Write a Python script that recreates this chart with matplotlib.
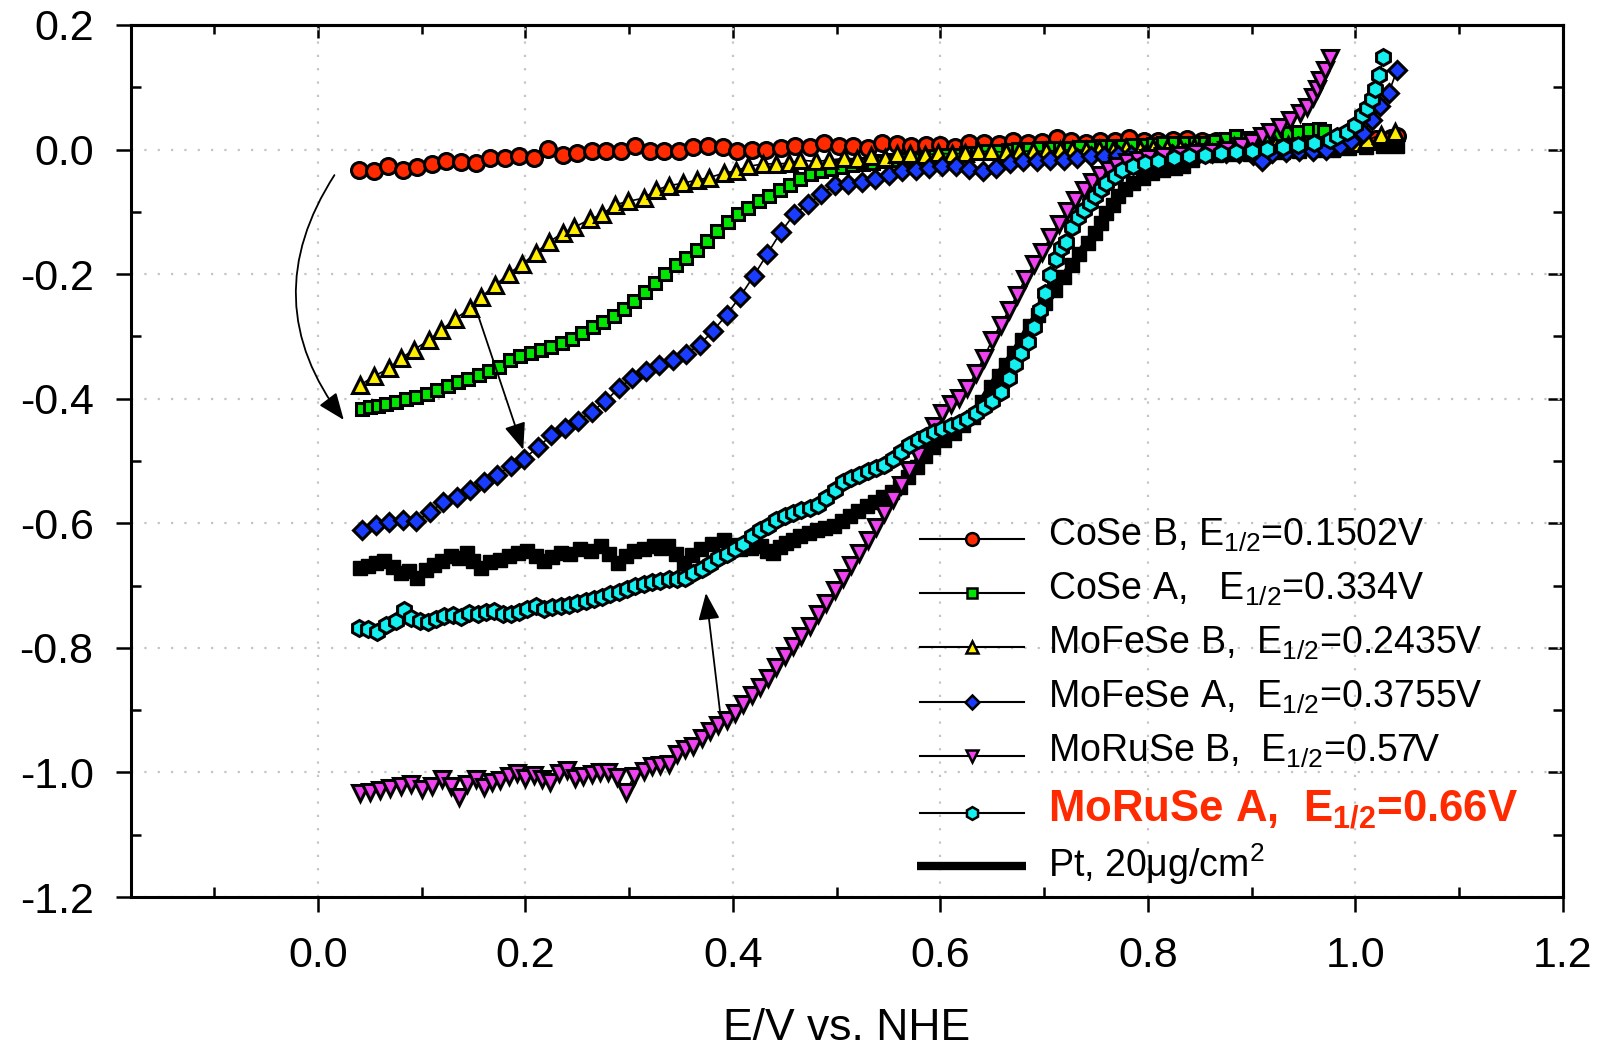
import matplotlib
matplotlib.use("Agg")
import matplotlib.pyplot as plt
from matplotlib.ticker import MultipleLocator, FormatStrFormatter

plt.rcParams['font.family'] = ['Liberation Sans', 'DejaVu Sans']
plt.rcParams['mathtext.fontset'] = 'custom'
plt.rcParams['mathtext.rm'] = 'Liberation Sans'
plt.rcParams['mathtext.it'] = 'Liberation Sans:italic'
plt.rcParams['mathtext.bf'] = 'Liberation Sans:bold'
plt.rcParams['axes.unicode_minus'] = False

# ---- polarisation curves: potential (V vs. NHE) and current ----
cose_b_x = [0.040, 0.054, 0.068, 0.082, 0.096, 0.110, 0.124, 0.138, 0.152, 0.166, 0.180, 0.194,
            0.208, 0.222, 0.236, 0.250, 0.264, 0.278, 0.292, 0.306, 0.320, 0.334, 0.348, 0.362,
            0.376, 0.390, 0.404, 0.418, 0.432, 0.446, 0.460, 0.474, 0.488, 0.502, 0.516, 0.530,
            0.544, 0.558, 0.572, 0.586, 0.600, 0.614, 0.628, 0.642, 0.656, 0.670, 0.684, 0.698,
            0.712, 0.726, 0.740, 0.754, 0.768, 0.782, 0.796, 0.810, 0.824, 0.838, 0.852, 0.866,
            0.880, 0.894, 0.908, 0.922, 0.936, 0.950, 0.964, 0.978, 0.992, 1.006, 1.020, 1.034, 1.040]
cose_b_y = [-0.033, -0.034, -0.026, -0.033, -0.028, -0.023, -0.019, -0.020, -0.022, -0.013, -0.013, -0.010,
            -0.014, 0.001, -0.009, -0.006, -0.003, -0.002, -0.003, 0.006, -0.003, -0.003, -0.002, 0.004,
            0.006, 0.004, -0.003, 0.000, 0.000, 0.002, 0.006, 0.004, 0.010, 0.006, 0.005, 0.003,
            0.010, 0.009, 0.006, 0.007, 0.007, 0.004, 0.011, 0.011, 0.009, 0.014, 0.011, 0.012,
            0.019, 0.013, 0.011, 0.014, 0.014, 0.018, 0.014, 0.013, 0.015, 0.017, 0.013, 0.014,
            0.013, 0.015, 0.014, 0.013, 0.015, 0.014, 0.015, 0.016, 0.014, 0.016, 0.017, 0.018, 0.021]

cose_a_x = [0.043, 0.050, 0.058, 0.066, 0.075, 0.085, 0.095, 0.105, 0.115, 0.125, 0.135, 0.145,
            0.155, 0.165, 0.175, 0.185, 0.195, 0.205, 0.215, 0.225, 0.235, 0.245, 0.255, 0.265,
            0.275, 0.285, 0.295, 0.305, 0.315, 0.325, 0.335, 0.345, 0.355, 0.365, 0.375, 0.385,
            0.395, 0.405, 0.415, 0.425, 0.435, 0.445, 0.455, 0.465, 0.475, 0.485, 0.495, 0.505,
            0.515, 0.525, 0.535, 0.545, 0.555, 0.565, 0.575, 0.585, 0.595, 0.605, 0.615, 0.625,
            0.635, 0.645, 0.655, 0.665, 0.675, 0.685, 0.695, 0.705, 0.715, 0.725, 0.735, 0.745,
            0.755, 0.765, 0.775, 0.785, 0.795, 0.805, 0.815, 0.825, 0.835, 0.845, 0.855, 0.865,
            0.875, 0.885, 0.895, 0.905, 0.915, 0.925, 0.935, 0.945, 0.955, 0.965, 0.970]
cose_a_y = [-0.417, -0.414, -0.412, -0.408, -0.405, -0.401, -0.397, -0.392, -0.386, -0.380, -0.373, -0.368,
            -0.362, -0.356, -0.349, -0.338, -0.331, -0.327, -0.322, -0.317, -0.311, -0.304, -0.294, -0.285,
            -0.277, -0.267, -0.256, -0.243, -0.229, -0.214, -0.200, -0.186, -0.174, -0.161, -0.146, -0.131,
            -0.116, -0.104, -0.093, -0.083, -0.074, -0.065, -0.057, -0.047, -0.040, -0.035, -0.031, -0.028,
            -0.025, -0.023, -0.021, -0.019, -0.017, -0.015, -0.014, -0.012, -0.011, -0.009, -0.008, -0.006,
            -0.005, -0.003, -0.002, 0.000, 0.001, 0.001, 0.002, 0.002, 0.003, 0.003, 0.004, 0.004,
            0.005, 0.006, 0.006, 0.007, 0.008, 0.009, 0.010, 0.010, 0.010, 0.010, 0.011, 0.013,
            0.017, 0.021, 0.019, 0.018, 0.019, 0.025, 0.027, 0.029, 0.031, 0.033, 0.030]

mofese_b_x = [0.041, 0.054, 0.069, 0.080, 0.093, 0.107, 0.119, 0.132, 0.147, 0.157, 0.171, 0.184,
              0.197, 0.210, 0.223, 0.236, 0.247, 0.262, 0.274, 0.286, 0.299, 0.314, 0.326, 0.338,
              0.352, 0.365, 0.377, 0.391, 0.403, 0.415, 0.429, 0.442, 0.454, 0.465, 0.480, 0.493,
              0.507, 0.520, 0.533, 0.547, 0.558, 0.571, 0.585, 0.598, 0.611, 0.624, 0.636, 0.649,
              0.663, 0.676, 0.689, 0.702, 0.715, 0.727, 0.740, 0.753, 0.766, 0.779, 0.792, 0.805,
              0.818, 0.831, 0.844, 0.857, 0.870, 0.883, 0.896, 0.909, 0.922, 0.935, 0.948, 0.961,
              0.974, 0.987, 1.000, 1.011, 1.025, 1.038]
mofese_b_y = [-0.378, -0.364, -0.351, -0.335, -0.321, -0.306, -0.290, -0.272, -0.255, -0.237, -0.218, -0.199,
              -0.184, -0.166, -0.148, -0.134, -0.125, -0.112, -0.104, -0.089, -0.083, -0.078, -0.065, -0.058,
              -0.054, -0.049, -0.045, -0.038, -0.034, -0.027, -0.023, -0.023, -0.022, -0.017, -0.019, -0.017,
              -0.014, -0.015, -0.011, -0.014, -0.007, -0.007, -0.009, -0.006, -0.007, -0.006, -0.003, -0.003,
              -0.004, -0.003, -0.002, -0.003, -0.001, 0.000, -0.001, 0.001, 0.000, 0.002, 0.001, 0.002,
              0.003, 0.003, 0.004, 0.004, 0.005, 0.005, 0.006, 0.006, 0.007, 0.007, 0.008, 0.008,
              0.009, 0.010, 0.011, 0.015, 0.024, 0.028]

mofese_a_x = [0.043, 0.056, 0.069, 0.082, 0.095, 0.108, 0.121, 0.134, 0.147, 0.160, 0.173, 0.186,
              0.199, 0.212, 0.225, 0.238, 0.251, 0.264, 0.277, 0.290, 0.303, 0.316, 0.329, 0.342,
              0.355, 0.368, 0.381, 0.394, 0.407, 0.420, 0.433, 0.446, 0.459, 0.472, 0.485, 0.498,
              0.511, 0.524, 0.537, 0.550, 0.563, 0.576, 0.589, 0.602, 0.615, 0.628, 0.641, 0.654,
              0.667, 0.680, 0.693, 0.706, 0.719, 0.732, 0.745, 0.758, 0.771, 0.784, 0.797, 0.810,
              0.823, 0.836, 0.849, 0.862, 0.875, 0.888, 0.901, 0.910, 0.920, 0.933, 0.946, 0.959,
              0.972, 0.985, 0.996, 1.007, 1.016, 1.024, 1.032, 1.040]
mofese_a_y = [-0.610, -0.603, -0.598, -0.594, -0.597, -0.582, -0.566, -0.557, -0.547, -0.534, -0.522, -0.508,
              -0.496, -0.478, -0.459, -0.447, -0.435, -0.421, -0.404, -0.383, -0.367, -0.355, -0.346, -0.338,
              -0.328, -0.313, -0.291, -0.265, -0.236, -0.203, -0.168, -0.133, -0.104, -0.088, -0.072, -0.057,
              -0.055, -0.052, -0.048, -0.041, -0.035, -0.032, -0.029, -0.026, -0.026, -0.031, -0.034, -0.029,
              -0.022, -0.018, -0.018, -0.017, -0.016, -0.013, -0.011, -0.010, -0.009, -0.009, -0.008, -0.007,
              -0.007, -0.006, -0.006, -0.006, -0.005, -0.005, -0.009, -0.018, -0.006, -0.004, -0.003, -0.002,
              0.000, 0.005, 0.014, 0.027, 0.048, 0.070, 0.091, 0.127]

moruse_b_x = [0.041, 0.050, 0.060, 0.070, 0.080, 0.090, 0.100, 0.110, 0.120, 0.128, 0.136, 0.144,
              0.152, 0.160, 0.168, 0.176, 0.184, 0.192, 0.200, 0.208, 0.216, 0.224, 0.232, 0.240,
              0.248, 0.256, 0.264, 0.272, 0.280, 0.288, 0.297, 0.305, 0.314, 0.322, 0.330, 0.338,
              0.346, 0.354, 0.362, 0.370, 0.378, 0.386, 0.394, 0.402, 0.410, 0.418, 0.426, 0.434,
              0.442, 0.450, 0.458, 0.466, 0.474, 0.482, 0.490, 0.498, 0.506, 0.514, 0.522, 0.530,
              0.538, 0.546, 0.554, 0.562, 0.570, 0.578, 0.586, 0.594, 0.602, 0.610, 0.618, 0.626,
              0.634, 0.642, 0.650, 0.658, 0.666, 0.674, 0.682, 0.690, 0.698, 0.706, 0.714, 0.722,
              0.730, 0.738, 0.746, 0.754, 0.762, 0.770, 0.780, 0.790, 0.800, 0.815, 0.830, 0.845,
              0.860, 0.875, 0.890, 0.900, 0.910, 0.918, 0.927, 0.937, 0.947, 0.953, 0.959, 0.963,
              0.966, 0.971, 0.975]
moruse_b_y = [-1.033, -1.031, -1.028, -1.025, -1.022, -1.019, -1.027, -1.022, -1.010, -1.021, -1.039, -1.018,
              -1.010, -1.023, -1.015, -1.012, -1.006, -1.001, -1.009, -1.004, -1.010, -1.015, -1.001, -0.996,
              -1.009, -1.006, -1.003, -1.000, -0.999, -1.008, -1.031, -1.005, -0.998, -0.990, -0.988, -0.986,
              -0.970, -0.962, -0.958, -0.945, -0.933, -0.923, -0.915, -0.904, -0.890, -0.875, -0.862, -0.849,
              -0.830, -0.813, -0.797, -0.781, -0.765, -0.746, -0.728, -0.707, -0.687, -0.667, -0.648, -0.627,
              -0.606, -0.584, -0.561, -0.538, -0.515, -0.490, -0.466, -0.443, -0.423, -0.408, -0.399, -0.382,
              -0.359, -0.334, -0.305, -0.281, -0.258, -0.233, -0.207, -0.184, -0.164, -0.141, -0.119, -0.098,
              -0.081, -0.065, -0.052, -0.041, -0.033, -0.026, -0.020, -0.016, -0.013, -0.010, -0.008, -0.006,
              -0.004, 0.000, 0.006, 0.012, 0.021, 0.029, 0.037, 0.048, 0.058, 0.069, 0.085, 0.098,
              0.112, 0.128, 0.147]

moruse_a_x = [0.040, 0.048, 0.057, 0.066, 0.075, 0.083, 0.090, 0.098, 0.106, 0.114, 0.122, 0.130,
              0.138, 0.146, 0.154, 0.162, 0.170, 0.178, 0.186, 0.194, 0.202, 0.210, 0.218, 0.226,
              0.234, 0.242, 0.250, 0.258, 0.266, 0.274, 0.282, 0.290, 0.298, 0.306, 0.314, 0.322,
              0.330, 0.338, 0.346, 0.354, 0.362, 0.370, 0.378, 0.386, 0.394, 0.402, 0.410, 0.418,
              0.426, 0.434, 0.442, 0.450, 0.458, 0.466, 0.474, 0.482, 0.490, 0.498, 0.506, 0.514,
              0.522, 0.530, 0.538, 0.546, 0.554, 0.562, 0.570, 0.578, 0.586, 0.594, 0.602, 0.610,
              0.618, 0.626, 0.634, 0.642, 0.650, 0.658, 0.666, 0.672, 0.678, 0.684, 0.690, 0.696,
              0.701, 0.706, 0.711, 0.716, 0.721, 0.727, 0.733, 0.738, 0.744, 0.749, 0.755, 0.760,
              0.768, 0.775, 0.786, 0.797, 0.810, 0.825, 0.840, 0.855, 0.870, 0.885, 0.900, 0.915,
              0.930, 0.945, 0.960, 0.975, 0.982, 0.992, 1.000, 1.006, 1.011, 1.016, 1.019, 1.023, 1.027]
moruse_a_y = [-0.768, -0.770, -0.774, -0.764, -0.757, -0.739, -0.752, -0.757, -0.758, -0.754, -0.749, -0.747,
              -0.751, -0.744, -0.745, -0.742, -0.741, -0.745, -0.746, -0.743, -0.738, -0.733, -0.737, -0.735,
              -0.733, -0.731, -0.728, -0.725, -0.722, -0.718, -0.714, -0.711, -0.705, -0.700, -0.697, -0.695,
              -0.693, -0.690, -0.689, -0.688, -0.680, -0.673, -0.665, -0.656, -0.649, -0.642, -0.633, -0.621,
              -0.611, -0.604, -0.595, -0.588, -0.583, -0.578, -0.575, -0.571, -0.560, -0.546, -0.533, -0.528,
              -0.522, -0.516, -0.511, -0.506, -0.496, -0.485, -0.475, -0.467, -0.460, -0.453, -0.448, -0.444,
              -0.439, -0.432, -0.423, -0.414, -0.403, -0.389, -0.366, -0.345, -0.326, -0.309, -0.285, -0.258,
              -0.231, -0.201, -0.176, -0.158, -0.148, -0.124, -0.109, -0.097, -0.085, -0.075, -0.064, -0.054,
              -0.043, -0.033, -0.027, -0.022, -0.018, -0.014, -0.011, -0.009, -0.006, -0.004, -0.002, 0.001,
              0.004, 0.007, 0.010, 0.015, 0.021, 0.029, 0.039, 0.056, 0.066, 0.082, 0.098, 0.120, 0.149]

pt_x = [0.041, 0.048, 0.056, 0.064, 0.072, 0.080, 0.088, 0.096, 0.104, 0.112, 0.120, 0.128,
        0.136, 0.144, 0.150, 0.157, 0.166, 0.176, 0.184, 0.193, 0.202, 0.210, 0.218, 0.226,
        0.234, 0.243, 0.253, 0.263, 0.273, 0.281, 0.289, 0.297, 0.305, 0.314, 0.324, 0.331,
        0.337, 0.345, 0.353, 0.361, 0.369, 0.380, 0.391, 0.399, 0.407, 0.417, 0.427, 0.433,
        0.439, 0.445, 0.451, 0.458, 0.465, 0.473, 0.481, 0.489, 0.497, 0.505, 0.513, 0.521,
        0.529, 0.537, 0.545, 0.553, 0.561, 0.569, 0.577, 0.585, 0.593, 0.603, 0.613, 0.622,
        0.631, 0.640, 0.649, 0.656, 0.663, 0.671, 0.679, 0.686, 0.694, 0.701, 0.710, 0.719,
        0.727, 0.734, 0.742, 0.749, 0.755, 0.760, 0.766, 0.771, 0.778, 0.786, 0.795, 0.804,
        0.815, 0.826, 0.834, 0.842, 0.850, 0.866, 0.882, 0.898, 0.914, 0.930, 0.946, 0.962,
        0.978, 0.994, 1.010, 1.027, 1.040]
pt_y = [-0.672, -0.668, -0.664, -0.661, -0.670, -0.680, -0.676, -0.688, -0.675, -0.667, -0.660, -0.653,
        -0.656, -0.648, -0.660, -0.672, -0.662, -0.659, -0.652, -0.648, -0.645, -0.652, -0.661, -0.654,
        -0.648, -0.650, -0.642, -0.645, -0.637, -0.650, -0.664, -0.652, -0.645, -0.641, -0.637, -0.640,
        -0.637, -0.650, -0.664, -0.651, -0.642, -0.633, -0.626, -0.635, -0.642, -0.640, -0.637, -0.644,
        -0.648, -0.638, -0.632, -0.627, -0.621, -0.616, -0.610, -0.607, -0.605, -0.597, -0.589, -0.581,
        -0.573, -0.565, -0.557, -0.549, -0.541, -0.525, -0.509, -0.492, -0.477, -0.466, -0.455, -0.442,
        -0.429, -0.405, -0.381, -0.363, -0.346, -0.327, -0.305, -0.284, -0.266, -0.247, -0.226, -0.204,
        -0.186, -0.167, -0.150, -0.134, -0.118, -0.102, -0.089, -0.075, -0.064, -0.054, -0.046, -0.038,
        -0.033, -0.029, -0.027, -0.016, -0.009, -0.008, -0.007, -0.007, -0.006, -0.004, -0.003, -0.001,
        0.000, 0.002, 0.004, 0.005, 0.005]

series_labels = [
    r'CoSe B, E$_{1/2}$=0.1502V',
    r'CoSe A,   E$_{1/2}$=0.334V',
    r'MoFeSe B,  E$_{1/2}$=0.2435V',
    r'MoFeSe A,  E$_{1/2}$=0.3755V',
    r'MoRuSe B,  E$_{1/2}$=0.57V',
    r'MoRuSe A,  E$_{\mathbf{1/2}}$=0.66V',
    r'Pt, 20μg/cm$^{2}$',
]
x_ticks = [0.0, 0.2, 0.4, 0.6, 0.8, 1.0, 1.2]
y_ticks = [0.2, 0.0, -0.2, -0.4, -0.6, -0.8, -1.0, -1.2]

RED = '#ff2a00'
styles = [
    dict(marker='o', mfc=RED, ms=11.5),
    dict(marker='s', mfc='#00e600', ms=8.5),
    dict(marker='^', mfc='#ffee00', ms=11),
    dict(marker='D', mfc='#1a3cff', ms=9.5),
    dict(marker='v', mfc='#f043f0', ms=11),
    dict(marker='h', mfc='#14f0f0', ms=11.5),
]
data = [(cose_b_x, cose_b_y), (cose_a_x, cose_a_y), (mofese_b_x, mofese_b_y),
        (mofese_a_x, mofese_a_y), (moruse_b_x, moruse_b_y), (moruse_a_x, moruse_a_y)]

fig = plt.figure(figsize=(16.1, 10.46), dpi=100)
ax = fig.add_axes([0.0814, 0.1424, 0.8894, 0.8337])

for i, ((xs, ys), st) in enumerate(zip(data, styles)):
    ax.plot(xs, ys, color='black', lw=1.2, marker=st['marker'], ms=st['ms'],
            mfc=st['mfc'], mec='black', mew=2.2, zorder=3 + i)
ax.plot(pt_x, pt_y, color='black', lw=6, marker='s', ms=10, mfc='black', mec='black', zorder=4.5)

# annotation arrows
ax.annotate('', xy=(0.025, -0.434), xytext=(0.016, -0.041),
            arrowprops=dict(arrowstyle='-|>,head_length=0.55,head_width=0.22', color='black',
                            lw=1.3, mutation_scale=30, shrinkA=0, shrinkB=0,
                            connectionstyle='arc3,rad=0.35'), zorder=12)
ax.annotate('', xy=(0.198, -0.482), xytext=(0.152, -0.254),
            arrowprops=dict(arrowstyle='-|>,head_length=0.55,head_width=0.22', color='black',
                            lw=1.3, mutation_scale=30, shrinkA=0, shrinkB=0), zorder=12)
ax.annotate('', xy=(0.374, -0.712), xytext=(0.388, -0.908),
            arrowprops=dict(arrowstyle='-|>,head_length=0.55,head_width=0.22', color='black',
                            lw=1.3, mutation_scale=30, shrinkA=0, shrinkB=0), zorder=12)

ax.set_xlim(-0.18, 1.2)
ax.set_ylim(-1.2, 0.2)
ax.set_xticks(x_ticks)
ax.set_yticks(y_ticks)
ax.xaxis.set_minor_locator(MultipleLocator(0.1))
ax.yaxis.set_minor_locator(MultipleLocator(0.1))
ax.xaxis.set_major_formatter(FormatStrFormatter('%.1f'))
ax.yaxis.set_major_formatter(FormatStrFormatter('%.1f'))
ax.tick_params(which='major', direction='out', length=11, width=1.8, labelsize=31,
               top=False, right=False)
ax.tick_params(which='minor', direction='in', length=7, width=1.8, top=False, right=False)
ax.tick_params(axis='y', which='major', pad=16)
ax.tick_params(axis='x', which='major', pad=17)
for sp in ax.spines.values():
    sp.set_linewidth(2.2)

secx = ax.secondary_xaxis('top')
secx.set_xticks(x_ticks)
secx.xaxis.set_minor_locator(MultipleLocator(0.1))
secx.tick_params(which='major', direction='in', length=9.5, width=1.8, labeltop=False)
secx.tick_params(which='minor', direction='in', length=6.5, width=1.8)
secx.spines['top'].set_linewidth(2.2)
secy = ax.secondary_yaxis('right')
secy.set_yticks(y_ticks)
secy.yaxis.set_minor_locator(MultipleLocator(0.1))
secy.tick_params(which='major', direction='in', length=11, width=1.8, labelright=False)
secy.tick_params(which='minor', direction='in', length=7, width=1.8)
secy.spines['right'].set_linewidth(2.2)

ax.grid(True, which='major', color='#c4c4c4', linestyle=(0, (1, 5)), lw=1.6)
ax.set_axisbelow(True)

ax.set_xlabel('E/V vs. NHE', fontsize=32)
ax.xaxis.set_label_coords(0.5, -0.127)

# legend rows, drawn in axes coordinates
row_mark = [0.4102, 0.3483, 0.2867, 0.2240, 0.1617, 0.0960, 0.0359]
row_base = [0.4025, 0.3406, 0.2787, 0.2171, 0.1552, 0.0864, 0.0229]
for i, st in enumerate(styles):
    ax.plot([0.551, 0.6236], [row_mark[i]] * 2, transform=ax.transAxes, color='black',
            lw=1.5, clip_on=False, zorder=15)
    ax.plot([0.5871], [row_mark[i]], transform=ax.transAxes, marker=st['marker'],
            ms=st['ms'] * 0.8, mfc=st['mfc'], mec='black', mew=1.8, clip_on=False, zorder=16)
ax.plot([0.5487, 0.6253], [row_mark[6]] * 2, transform=ax.transAxes, color='black',
        lw=6, solid_capstyle='butt', clip_on=False, zorder=15)
for i, lab in enumerate(series_labels):
    if i == 5:
        ax.text(0.6405, row_base[i], lab, transform=ax.transAxes, fontsize=31.5,
                fontweight='bold', color=RED, va='baseline', ha='left', zorder=16)
    else:
        ax.text(0.6405, row_base[i], lab, transform=ax.transAxes, fontsize=27,
                color='black', va='baseline', ha='left', zorder=16)

fig.savefig('out.png', dpi=100)
